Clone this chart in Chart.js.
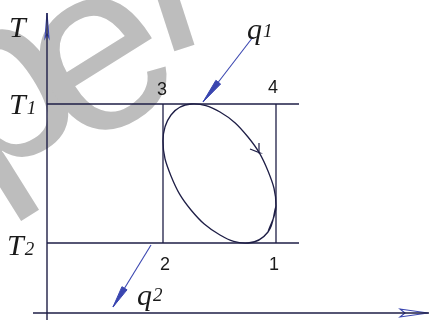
<!DOCTYPE html>
<html>
<head>
<meta charset="utf-8">
<title>T-s cycle</title>
<script src="https://cdn.jsdelivr.net/npm/chart.js@4.4.1/dist/chart.umd.min.js"></script>
<style>
  html, body { margin: 0; padding: 0; background: #ffffff; }
  #box { width: 429px; height: 320px; position: relative; }
</style>
</head>
<body>
<div id="box"><canvas id="tsChart"></canvas></div>
<script>
// values (s along x, T along y)
const tempLevels = [0.70, 2.09];          // T2, T1
const entropyLevels = [1.16, 2.29];       // s2 = s3, s1 = s4
const cornerNames = ['1', '2', '3', '4'];
const cornerS = [2.29, 1.16, 1.16, 2.29];
const cornerT = [0.70, 0.70, 2.09, 2.09];
const levelLineEnd = 2.52;

const axisS = [-0.14, 3.82];
const axisT = [-0.07, 3.00];

// closed cycle, clockwise from the right side
const cycleS = [2.29, 2.21, 2.01, 1.73, 1.44, 1.24, 1.16, 1.24, 1.44, 1.73, 2.01, 2.21, 2.29, 2.21];
const cycleT = [1.07, 0.81, 0.70, 0.78, 1.03, 1.37, 1.72, 1.98, 2.09, 2.01, 1.76, 1.42, 1.07, 0.81];

const dirArrowS = [2.03, 2.13, 2.12];
const dirArrowT = [1.64, 1.60, 1.70];

const q1S = [2.06, 1.56];
const q1T = [2.76, 2.11];
const q2S = [1.04, 0.66];
const q2T = [0.68, 0.06];

const pts = (xs, ys) => xs.map((x, i) => ({ x: x, y: ys[i] }));

const lineColor = '#1e1e46';
const blue = '#3a46b0';

// small arrow head as a filled polygon at the end of a segment
const headPoints = (xs, ys, len, half) => {
  const dx = xs[1] - xs[0];
  const dy = ys[1] - ys[0];
  const d = Math.sqrt(dx * dx + dy * dy);
  const ux = dx / d, uy = dy / d;
  const bx = xs[1] - ux * len, by = ys[1] - uy * len;
  return [
    { x: xs[1], y: ys[1] },
    { x: bx + uy * half, y: by - ux * half },
    { x: bx - uy * half, y: by + ux * half },
    { x: xs[1], y: ys[1] }
  ];
};

const axisHead = (tip, back, notch, half, vertical) => {
  if (vertical) {
    return [
      { x: tip[0], y: tip[1] },
      { x: tip[0] - half, y: back },
      { x: tip[0], y: notch },
      { x: tip[0] + half, y: back },
      { x: tip[0], y: tip[1] }
    ];
  }
  return [
    { x: tip[0], y: tip[1] },
    { x: back, y: tip[1] + half },
    { x: notch, y: tip[1] },
    { x: back, y: tip[1] - half },
    { x: tip[0], y: tip[1] }
  ];
};

const seg = (data, color, width, extra) => Object.assign({
  data: data,
  showLine: true,
  borderColor: color,
  borderWidth: width,
  pointRadius: 0,
  fill: false,
  tension: 0
}, extra || {});

const datasets = [
  // axes
  seg(pts([0, 0], axisT), lineColor, 1.4),
  seg(pts(axisS, [0, 0]), lineColor, 1.4),
  // T1 and T2
  seg(pts([0, levelLineEnd], [tempLevels[1], tempLevels[1]]), lineColor, 1.3),
  seg(pts([0, levelLineEnd], [tempLevels[0], tempLevels[0]]), lineColor, 1.3),
  // verticals
  seg(pts([entropyLevels[0], entropyLevels[0]], tempLevels), lineColor, 1.3),
  seg(pts([entropyLevels[1], entropyLevels[1]], tempLevels), lineColor, 1.3),
  // cycle
  seg(pts(cycleS, cycleT), lineColor, 1.3, { tension: 0.4 }),
  seg(pts(dirArrowS, dirArrowT), lineColor, 1.2),
  // heat arrows
  seg(pts(q1S, q1T), blue, 1.1),
  seg(headPoints(q1S, q1T, 0.25, 0.03), blue, 1, { fill: 'shape', backgroundColor: blue }),
  seg(pts(q2S, q2T), blue, 1.1),
  seg(headPoints(q2S, q2T, 0.22, 0.03), blue, 1, { fill: 'shape', backgroundColor: blue }),
  // axis arrow heads
  seg(axisHead([0, 3.00], 2.75, 2.79, 0.02, true), blue, 1.1),
  seg(axisHead([3.81, 0], 3.53, 3.58, 0.04, false), blue, 1.1)
];

// grey watermark letters behind the drawing
const watermark = {
  id: 'watermark',
  beforeDatasetsDraw(chart) {
    const ctx = chart.ctx;
    const em = 240;
    // letter, anchor x, anchor y, angle, shift along text x, shift along text y (em)
    const letters = [
      ['p', 30, 216, -32, -0.11, -0.21],
      ['e', 102, 64, -32, -0.278, 0.265],
      ['l', 184, 48, -18, -0.11, 0]
    ];
    ctx.save();
    ctx.fillStyle = '#bdbdbd';
    ctx.font = em + 'px "Liberation Sans"';
    ctx.textAlign = 'left';
    ctx.textBaseline = 'alphabetic';
    letters.forEach((l) => {
      ctx.save();
      ctx.translate(l[1], l[2]);
      ctx.rotate(l[3] * Math.PI / 180);
      ctx.fillText(l[0], l[4] * em, l[5] * em);
      ctx.restore();
    });
    ctx.restore();
  }
};

const labels = {
  id: 'labels',
  afterDatasetsDraw(chart) {
    const ctx = chart.ctx;
    const xs = chart.scales.x;
    const ys = chart.scales.y;
    const px = (v) => xs.getPixelForValue(v);
    const py = (v) => ys.getPixelForValue(v);
    ctx.save();
    ctx.fillStyle = '#1a1a1a';

    // corner numbers
    const offs = [[-2, 27], [2, 27], [-1, -9], [-3, -11]];
    ctx.font = '18px "Liberation Sans"';
    ctx.textAlign = 'center';
    ctx.textBaseline = 'alphabetic';
    cornerNames.forEach((name, i) => {
      ctx.fillText(name, px(cornerS[i]) + offs[i][0], py(cornerT[i]) + offs[i][1]);
    });

    // T and q labels with a small index
    ctx.textAlign = 'left';
    const big = 'italic 30px "Liberation Serif"';
    const small = 'italic 19px "Liberation Serif"';
    const withIndex = (main, idx, x, y, dy) => {
      ctx.font = big;
      ctx.fillText(main, x, y);
      const w = ctx.measureText(main).width;
      if (idx) {
        ctx.font = small;
        ctx.fillText(idx, x + w + 1, y + dy);
      }
    };
    const x0 = px(0);
    withIndex('T', '', x0 - 38, py(axisT[1]) + 24, 0);
    withIndex('T', '1', x0 - 38, py(tempLevels[1]) + 10, 0);
    withIndex('T', '2', x0 - 40, py(tempLevels[0]) + 12, 0);

    withIndex('q', '1', px(q1S[0]) - 6, py(q1T[0]) + 2, -2);
    withIndex('q', '2', px(q2S[1]) + 24, py(q2T[1]) - 2, -4);
    ctx.restore();
  }
};

new Chart(document.getElementById('tsChart'), {
  type: 'scatter',
  data: { datasets: datasets },
  options: {
    responsive: true,
    maintainAspectRatio: false,
    animation: false,
    layout: { padding: 0 },
    plugins: {
      legend: { display: false },
      tooltip: { enabled: false }
    },
    scales: {
      x: { type: 'linear', min: -0.47, max: 3.82, display: false },
      y: { type: 'linear', min: -0.07, max: 3.13, display: false }
    }
  },
  plugins: [watermark, labels]
});
</script>
</body>
</html>
